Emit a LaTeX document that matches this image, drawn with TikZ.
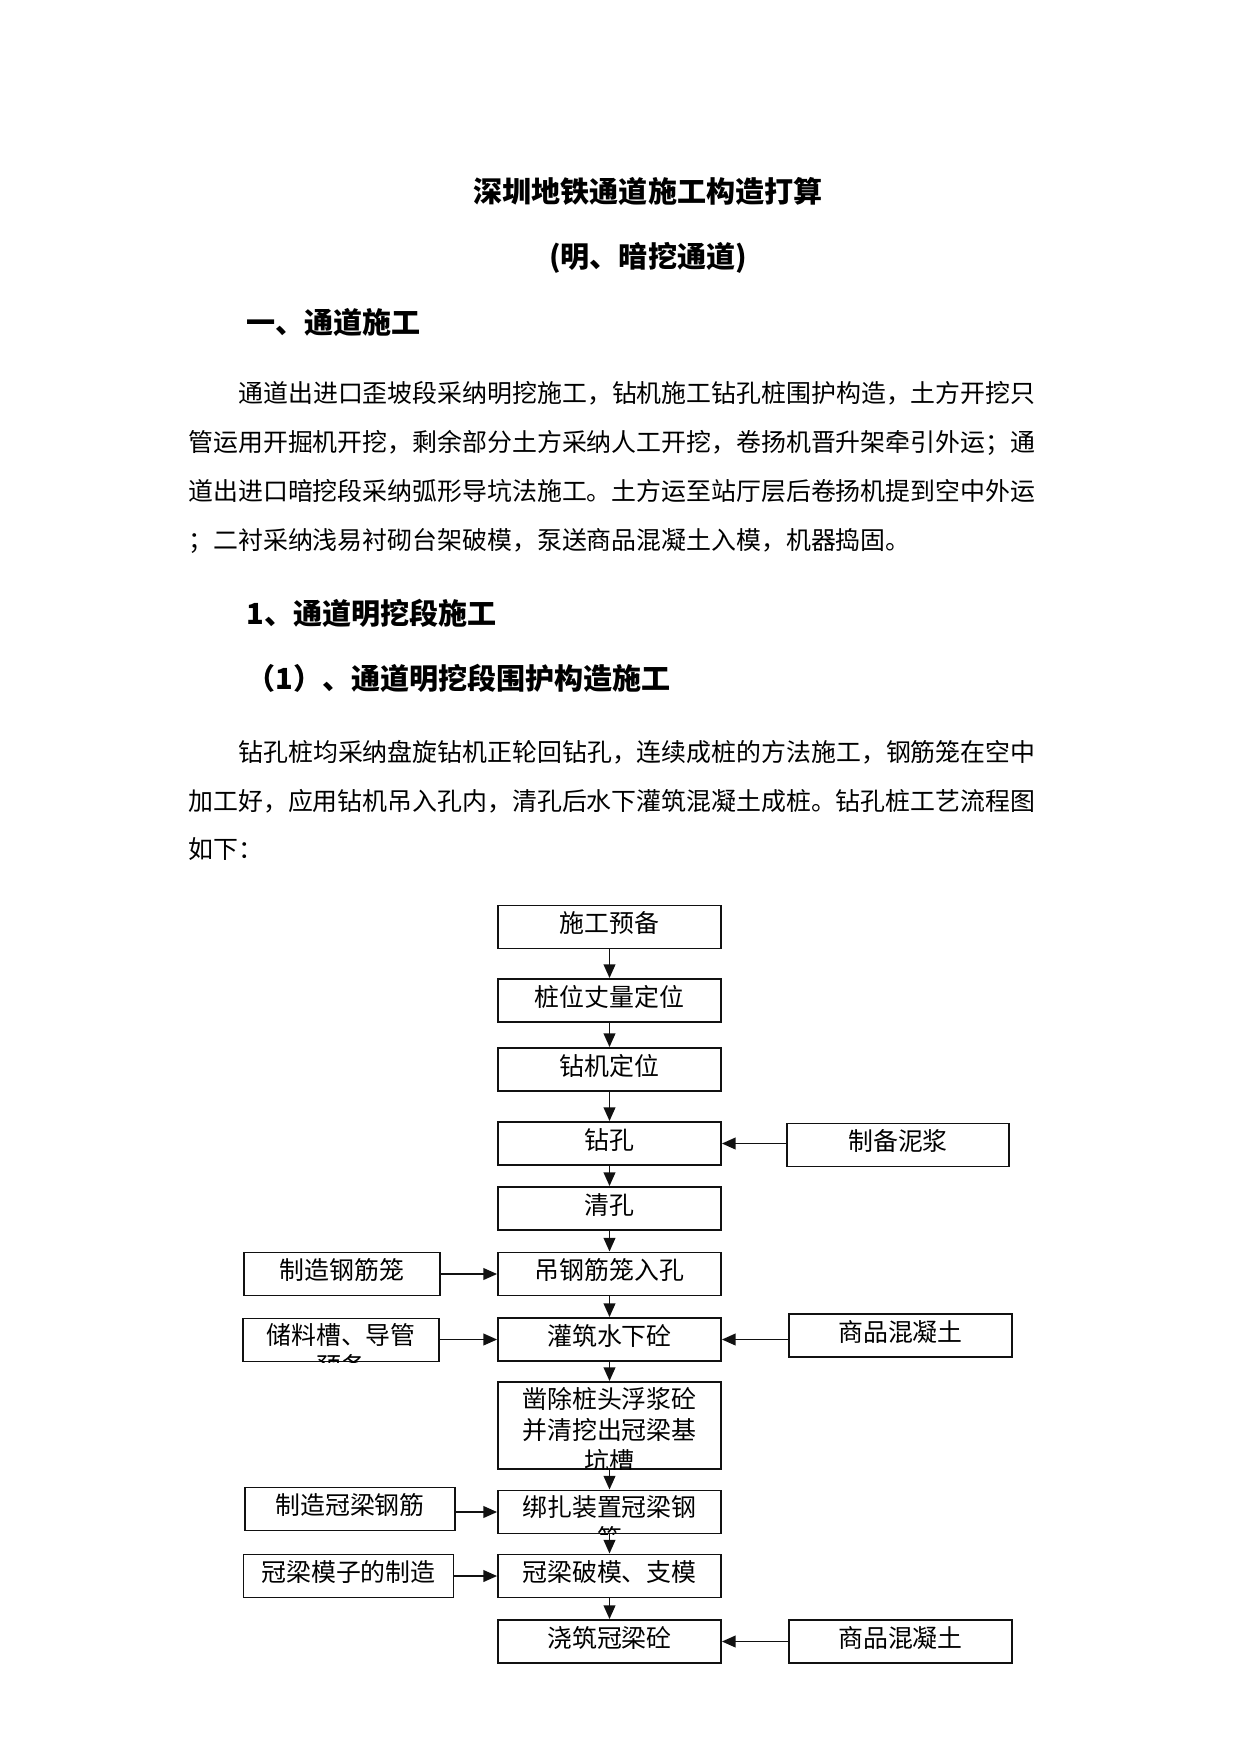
\documentclass[tikz,border=0pt]{standalone}
\usepackage{fontspec}
\newfontfamily\cjk{Noto Sans CJK SC}
\usetikzlibrary{arrows.meta,calc}
\begin{document}
\begin{tikzpicture}[x=0.4818pt,y=-0.4818pt,font=\cjk\fontsize{12}{15}\selectfont,
  textline/.style={inner sep=0pt,text height=8.6pt,text depth=3.1pt},
  heading/.style={inner sep=0pt,text height=10pt,text depth=3.6pt,
    font=\cjk\bfseries\fontsize{14}{17}\selectfont},
  flowbox/.style={draw=ink,line width=0.9pt,inner sep=0pt,minimum height=20.7pt,
    text height=8.6pt,text depth=3.1pt},
  mainbox/.style={flowbox,minimum width=107.4pt},
  flow/.style={draw=ink,line width=0.9pt,-{Triangle[length=6.6pt,width=5.6pt]}}]
  \definecolor{ink}{HTML}{111111}
  \node[heading] (title) at (648,196) {深圳地铁通道施工构造打算};
  \node[heading] (subtitle) at (648,261) {(明、暗挖通道)};
  \node[heading,anchor=west] (secone) at (246,327) {一、通道施工};
  \node[heading,anchor=west] (secopen) at (246,618) {1、通道明挖段施工};
  \node[heading,anchor=west] (secwall) at (246,683) {（1）、通道明挖段围护构造施工};
  \foreach \x/\y/\txt [count=\i] in {
      238/396.5/{通道出进口歪坡段采纳明挖施工，钻机施工钻孔桩围护构造，土方开挖只},
      188/445.5/{管运用开掘机开挖，剩余部分土方采纳人工开挖，卷扬机晋升架牵引外运；通},
      188/494.5/{道出进口暗挖段采纳弧形导坑法施工。土方运至站厅层后卷扬机提到空中外运},
      188/543.5/{；二衬采纳浅易衬砌台架破模，泵送商品混凝土入模，机器捣固。},
      238/756/{钻孔桩均采纳盘旋钻机正轮回钻孔，连续成桩的方法施工，钢筋笼在空中},
      188/804.5/{加工好，应用钻机吊入孔内，清孔后水下灌筑混凝土成桩。钻孔桩工艺流程图},
      188/853/{如下：}}
    \node[textline,anchor=west] (para\i) at (\x,\y) {\txt};
  \foreach \name/\y/\lab in {prep/927/施工预备,survey/1000.5/桩位丈量定位,
      rig/1069.5/钻机定位,drill/1143.5/钻孔,clean/1208.5/清孔,cage/1274/吊钢筋笼入孔,
      pour/1339.5/灌筑水下砼,form/1576/冠梁破模、支模,cast/1641.5/浇筑冠梁砼}
    \node[mainbox] (\name) at (609.5,\y) {\lab};
  \node[mainbox,minimum height=41.9pt] (chisel) at (609.5,1425.5) {};
  \node[mainbox] (bind) at (609.5,1512) {};
  \node[flowbox,minimum width=94.4pt] (cagework) at (342,1274) {制造钢筋笼};
  \node[flowbox,minimum width=94.4pt] (storage) at (341,1340) {};
  \node[flowbox,minimum width=101.2pt] (beamwork) at (350,1509) {制造冠梁钢筋};
  \node[flowbox,minimum width=101.2pt] (mould) at (348.5,1576) {冠梁模子的制造};
  \node[flowbox,minimum width=107pt] (slurry) at (898,1145) {制备泥浆};
  \node[flowbox,minimum width=107.4pt] (mix) at (900.5,1335.5) {商品混凝土};
  \node[flowbox,minimum width=107.4pt] (mixtwo) at (900.5,1641.5) {商品混凝土};
  \foreach \name/\dy/\lab [count=\i] in {storage/21.5/储料槽、导管,storage/52.5/预备,
      chisel/21.5/凿除桩头浮浆砼,chisel/52.5/并清挖出冠梁基,chisel/83.5/坑槽,
      bind/21.5/绑扎装置冠梁钢,bind/52.5/筋}{
    \begin{scope}
      \clip (\name.north west) rectangle (\name.south east);
      \node[textline] (cliptxt\i) at ($(\name.north)+(0,\dy)$) {\lab};
    \end{scope}
  }
  \foreach \a/\b in {prep/survey,survey/rig,rig/drill,drill/clean,clean/cage,
      cage/pour,pour/chisel,chisel/bind,bind/form,form/cast}
    \draw[flow] (\a.south) -- (\b.north);
  \foreach \a/\b in {cagework/cage,storage/pour,beamwork/bind,mould/form}
    \draw[flow] (\a.east |- \b.west) -- (\b.west);
  \foreach \a/\b in {slurry/drill,mix/pour,mixtwo/cast}
    \draw[flow] (\a.west |- \b.east) -- (\b.east);
  \path[use as bounding box] (0,0) rectangle (1241,1754);
\end{tikzpicture}
\end{document}
